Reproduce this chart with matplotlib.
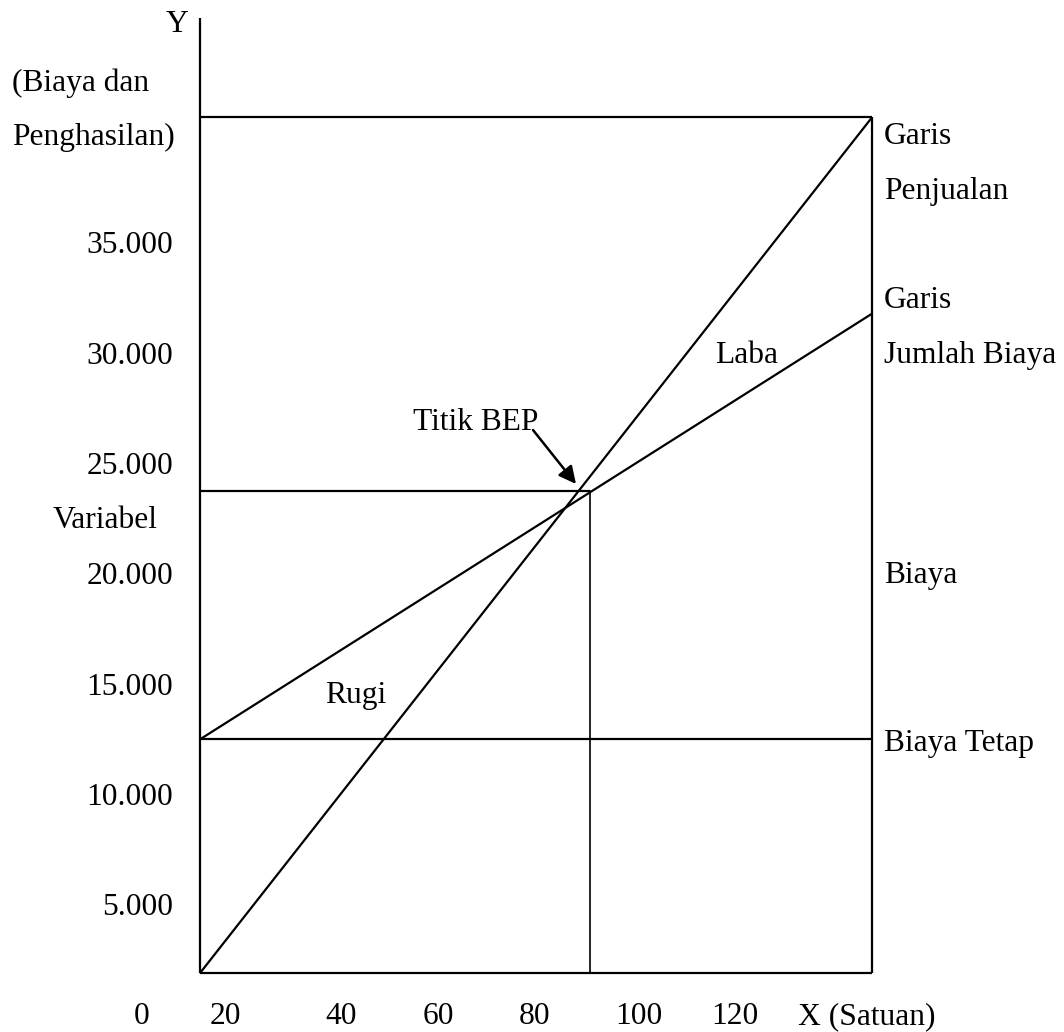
import matplotlib
matplotlib.use("Agg")
import matplotlib.pyplot as plt

# ---- data (schematic break-even chart) ----
q_start = 11.7          # quantity at left edge of chart
q_end = 147.8          # quantity at right edge of chart
q_bep = 90.7           # break-even quantity
base_value = 1900      # level of the bottom line
axis_top = 45200       # top of the Y axis
fixed_cost = 12500     # Biaya Tetap
sales_end = 40700      # sales revenue at q_end
total_cost_end = 31800 # total cost at q_end
bep_value = 23750      # revenue / cost at BEP

y_tick_values = [5000, 10000, 15000, 20000, 25000, 30000, 35000]
y_tick_labels = ["5.000", "10.000", "15.000", "20.000", "25.000", "30.000", "35.000"]
x_tick_labels = ["0", "20", "40", "60", "80", "100", "120"]
x_tick_pos = [0, 16.8, 40.4, 60, 79.5, 100.6, 120]

W, H = 1064, 1032
FONT = "Liberation Serif"
FS = 22.7
LW = 1.6

fig = plt.figure(figsize=(W / 100, H / 100), dpi=100)
ax = fig.add_axes([0, 0, 1, 1])
XL = (-28.74, 186.64)
YL = (-757, 46012)
ax.set_xlim(*XL)
ax.set_ylim(*YL)
ax.axis("off")

k = dict(color="black", lw=LW, solid_capstyle="butt")
# axes / frame
ax.plot([q_start, q_start], [base_value, axis_top], **k)
ax.plot([q_start, q_end], [base_value, base_value], **k)
ax.plot([q_end, q_end], [base_value, sales_end], **k)
ax.plot([q_start, q_end], [sales_end, sales_end], **k)
# sales line
ax.plot([q_start, q_end], [base_value, sales_end], **k)
# total cost line
ax.plot([q_start, q_end], [fixed_cost, total_cost_end], **k)
# fixed cost line
ax.plot([q_start, q_end], [fixed_cost, fixed_cost], **k)
# BEP guide lines
ax.plot([q_start, q_bep], [bep_value, bep_value], **k)
ax.plot([q_bep, q_bep], [base_value, bep_value], color="black", lw=1.2)


def p2d(px, py):
    x = XL[0] + px / W * (XL[1] - XL[0])
    y = YL[0] + (H - py) / H * (YL[1] - YL[0])
    return x, y


def ftxt(px, py, s, ha="left"):
    # px: pixel x, py: pixel y of text visual centre (caps)
    base = py + 10.5
    fig.text(px / W, 1 - base / H, s, ha=ha, va="baseline",
             fontsize=FS, family=FONT, color="black")


# y tick labels
for v, lab in zip(y_tick_values, y_tick_labels):
    py = 1015.3 - v / 5000 * 110.33
    ftxt(173, py, lab, ha="right")

# x tick labels
x_base_y = p2d(0, 1024)[1]
for xp, lab in zip(x_tick_pos, x_tick_labels):
    ax.text(xp, x_base_y, lab, ha="center", va="baseline",
            fontsize=FS, family=FONT)

fig.text(867 / W, 1 - 1024 / H, "X (Satuan)", ha="center", va="baseline",
         fontsize=FS, family=FONT)
ftxt(177, 22, "Y", ha="center")
ftxt(12, 80, "(Biaya dan")
ftxt(12, 135, "Penghasilan)")
ftxt(53, 518, "Variabel")

ftxt(884, 133, "Garis")
ftxt(884, 188, "Penjualan")
ftxt(884, 297, "Garis")
ftxt(884, 352, "Jumlah Biaya")
ftxt(884, 573, "Biaya")
ftxt(884, 740, "Biaya Tetap")

ftxt(715, 352, "Laba")
ftxt(325, 693, "Rugi")
ftxt(413, 420, "Titik BEP")

ax.annotate("", xy=p2d(576, 484), xytext=p2d(533, 430),
            arrowprops=dict(arrowstyle="-|>", color="black", lw=1.8,
                            mutation_scale=26, shrinkA=0, shrinkB=0))

fig.savefig("out.png", dpi=100, facecolor="white")
